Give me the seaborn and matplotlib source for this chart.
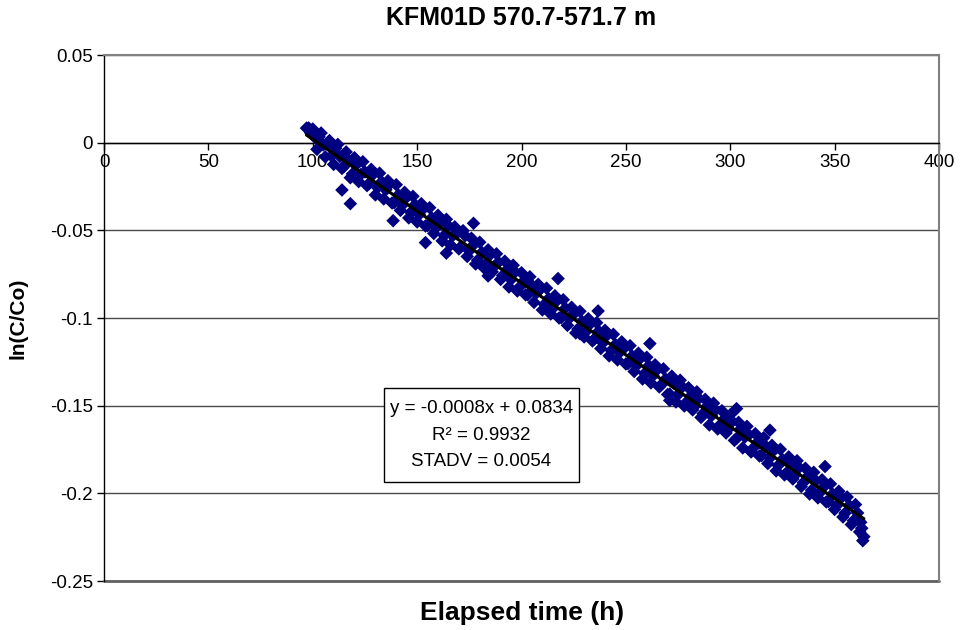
import matplotlib
matplotlib.use('Agg')
import matplotlib.pyplot as plt
from matplotlib.patches import Rectangle
import seaborn as sns
import pandas as pd

# ---- data ----
elapsed_h = [97, 99, 101, 103, 105, 107, 109, 111, 113, 115, 117, 119, 121, 123, 125,
             127, 129, 131, 133, 135, 137, 139, 141, 143, 145, 147, 149, 151, 153, 155,
             157, 159, 161, 163, 165, 167, 169, 171, 173, 175, 177, 179, 181, 183, 185,
             187, 189, 191, 193, 195, 197, 199, 201, 203, 205, 207, 209, 211, 213, 215,
             217, 219, 221, 223, 225, 227, 229, 231, 233, 235, 237, 239, 241, 243, 245,
             247, 249, 251, 253, 255, 257, 259, 261, 263, 265, 267, 269, 271, 273, 275,
             277, 279, 281, 283, 285, 287, 289, 291, 293, 295, 297, 299, 301, 303, 305,
             307, 309, 311, 313, 315, 317, 319, 321, 323, 325, 327, 329, 331, 333, 335,
             337, 339, 341, 343, 345, 347, 349, 351, 353, 355, 357, 359, 361, 363, 364, 362]
ln_c_co = [0.0083, 0.0056, 0.0030, 0.0033, -0.0013, -0.0009, -0.0076, -0.0032, -0.0079, -0.0135,
           -0.0101, -0.0178, -0.0124, -0.0181, -0.0167, -0.0233, -0.0180, -0.0256, -0.0223, -0.0269,
           -0.0235, -0.0342, -0.0298, -0.0355, -0.0311, -0.0397, -0.0354, -0.0410, -0.0377, -0.0473,
           -0.0429, -0.0486, -0.0452, -0.0529, -0.0475, -0.0531, -0.0518, -0.0594, -0.0531, -0.0617,
           -0.0583, -0.0670, -0.0626, -0.0693, -0.0639, -0.0705, -0.0682, -0.0758, -0.0725, -0.0781,
           -0.0737, -0.0824, -0.0790, -0.0867, -0.0813, -0.0859, -0.0836, -0.0922, -0.0889, -0.0945,
           -0.0901, -0.0998, -0.0944, -0.1001, -0.0977, -0.1063, -0.1020, -0.1076, -0.1033, -0.1119,
           -0.1075, -0.1142, -0.1098, -0.1185, -0.1151, -0.1197, -0.1174, -0.1260, -0.1217, -0.1273,
           -0.1229, -0.1316, -0.1272, -0.1329, -0.1295, -0.1381, -0.1348, -0.1434, -0.1371, -0.1437,
           -0.1393, -0.1480, -0.1446, -0.1503, -0.1459, -0.1545, -0.1502, -0.1558, -0.1525, -0.1611,
           -0.1577, -0.1634, -0.1590, -0.1687, -0.1633, -0.1679, -0.1666, -0.1742, -0.1709, -0.1785,
           -0.1731, -0.1798, -0.1754, -0.1841, -0.1807, -0.1883, -0.1830, -0.1896, -0.1853, -0.1939,
           -0.1905, -0.1982, -0.1928, -0.1995, -0.1961, -0.2047, -0.2004, -0.2070, -0.2027, -0.2113,
           -0.2069, -0.2156, -0.2112, -0.2199, -0.2247, -0.2220]

elapsed_h_b = [98, 100, 102, 104, 106, 108, 110, 112, 114, 116, 118, 120, 122, 124, 126,
               128, 130, 132, 134, 136, 138, 140, 142, 144, 146, 148, 150, 152, 154, 156,
               158, 160, 162, 164, 166, 168, 170, 172, 174, 176, 178, 180, 182, 184, 186,
               188, 190, 192, 194, 196, 198, 200, 202, 204, 206, 208, 210, 212, 214, 216,
               218, 220, 222, 224, 226, 228, 230, 232, 234, 236, 238, 240, 242, 244, 246,
               248, 250, 252, 254, 256, 258, 260, 262, 264, 266, 268, 270, 272, 274, 276,
               278, 280, 282, 284, 286, 288, 290, 292, 294, 296, 298, 300, 302, 304, 306,
               308, 310, 312, 314, 316, 318, 320, 322, 324, 326, 328, 330, 332, 334, 336,
               338, 340, 342, 344, 346, 348, 350, 352, 354, 356, 358, 360, 362.5, 363.5]
ln_c_co_b = [0.0084, 0.0078, -0.0038, 0.0055, -0.0081, 0.0012, -0.0124, -0.0010, -0.0147, -0.0053,
             -0.0200, -0.0086, -0.0222, -0.0109, -0.0245, -0.0152, -0.0298, -0.0174, -0.0321, -0.0217,
             -0.0344, -0.0240, -0.0386, -0.0283, -0.0429, -0.0306, -0.0452, -0.0348, -0.0475, -0.0371,
             -0.0518, -0.0414, -0.0560, -0.0437, -0.0583, -0.0480, -0.0606, -0.0502, -0.0649, -0.0545,
             -0.0692, -0.0568, -0.0714, -0.0611, -0.0737, -0.0634, -0.0780, -0.0676, -0.0823, -0.0699,
             -0.0846, -0.0742, -0.0868, -0.0765, -0.0911, -0.0808, -0.0954, -0.0830, -0.0977, -0.0873,
             -0.1000, -0.0896, -0.1042, -0.0939, -0.1085, -0.0962, -0.1108, -0.1004, -0.1131, -0.1027,
             -0.1174, -0.1070, -0.1216, -0.1093, -0.1239, -0.1136, -0.1262, -0.1158, -0.1305, -0.1201,
             -0.1348, -0.1224, -0.1370, -0.1267, -0.1393, -0.1290, -0.1436, -0.1332, -0.1479, -0.1355,
             -0.1502, -0.1398, -0.1524, -0.1421, -0.1567, -0.1464, -0.1610, -0.1486, -0.1633, -0.1529,
             -0.1656, -0.1552, -0.1698, -0.1595, -0.1741, -0.1618, -0.1764, -0.1660, -0.1787, -0.1683,
             -0.1830, -0.1726, -0.1872, -0.1749, -0.1895, -0.1792, -0.1918, -0.1814, -0.1961, -0.1857,
             -0.2004, -0.1880, -0.2026, -0.1923, -0.2049, -0.1946, -0.2092, -0.1988, -0.2135, -0.2021,
             -0.2178, -0.2064, -0.2165, -0.2270]

outlier_h = [114, 118, 138.5, 154, 164, 177, 184, 217.5, 228, 236.7, 261.5, 271, 303, 319, 345.4]
outlier_ln = [-0.0270, -0.0348, -0.0445, -0.0570, -0.0630, -0.0460, -0.0760, -0.0775, -0.1090,
              -0.0960, -0.1146, -0.1470, -0.1517, -0.1640, -0.1847]

x_ticks = [0, 50, 100, 150, 200, 250, 300, 350, 400]
y_ticks = [0.05, 0, -0.05, -0.1, -0.15, -0.2, -0.25]
y_tick_labels = ['0.05', '0', '-0.05', '-0.1', '-0.15', '-0.2', '-0.25']
title_text = 'KFM01D 570.7-571.7 m'
x_label = 'Elapsed time (h)'
y_label = 'ln(C/Co)'
fit_text = 'y = -0.0008x + 0.0834\nR\u00b2 = 0.9932\nSTADV = 0.0054'
fit_box_x = (134.1, 227.5)
fit_box_y = (-0.1938, -0.1397)

# ---- styling ----
sns.set_theme(style='white')
plt.rcParams['font.family'] = ['Liberation Sans', 'DejaVu Sans']
plt.rcParams['axes.unicode_minus'] = False
plt.rcParams['text.color'] = 'black'

df = pd.DataFrame({'t': elapsed_h + elapsed_h_b + outlier_h,
                   'ln': ln_c_co + ln_c_co_b + outlier_ln})

W, H = 962, 630
fig = plt.figure(figsize=(W / 100, H / 100), dpi=100)
ax = fig.add_axes([104 / W, 1 - 581 / H, 835 / W, 526 / H])

sns.scatterplot(data=df, x='t', y='ln', marker='D', s=48, color='#000080',
                edgecolor='none', linewidth=0, ax=ax, zorder=3)
sns.regplot(data=df, x='t', y='ln', scatter=False, ci=None, color='black',
            line_kws={'linewidth': 2.3, 'zorder': 4}, ax=ax)

ax.set_xlim(0, 400)
ax.set_ylim(-0.25, 0.05)
ax.set_xticks(x_ticks)
ax.set_xticklabels([str(v) for v in x_ticks])
ax.set_yticks(y_ticks)
ax.set_yticklabels(y_tick_labels)
ax.set_xlabel('')
ax.set_ylabel('')

ax.yaxis.grid(True, color='#4a4a4a', linewidth=1.0)
ax.xaxis.grid(False)
ax.set_axisbelow(True)

ax.spines['bottom'].set_position(('data', 0))
ax.spines['bottom'].set_color('black')
ax.spines['bottom'].set_linewidth(1.0)
ax.spines['left'].set_color('black')
ax.spines['left'].set_linewidth(1.0)
for s in ('top', 'right'):
    ax.spines[s].set_color('#808080')
    ax.spines[s].set_linewidth(1.5)
    ax.spines[s].set_visible(True)
ax.axhline(-0.25, color='#606060', linewidth=2.0, clip_on=False, zorder=1)

ax.tick_params(axis='both', which='major', direction='out', length=5, width=1,
               color='black', labelsize=13.5, labelcolor='black', pad=3,
               bottom=True, left=True)

ax.add_patch(Rectangle((fit_box_x[0], fit_box_y[0]), fit_box_x[1] - fit_box_x[0],
                       fit_box_y[1] - fit_box_y[0], facecolor='white',
                       edgecolor='black', linewidth=1, zorder=6))
ax.text(sum(fit_box_x) / 2, sum(fit_box_y) / 2, fit_text, ha='center', va='center',
        multialignment='center', fontsize=13.5, linespacing=1.72, zorder=7,
        color='black')

fig.text(521.5 / W, 1 - 18 / H, title_text, ha='center', va='center',
         fontsize=18, fontweight='bold', color='black')
fig.text(522 / W, 1 - 613 / H, x_label, ha='center', va='center',
         fontsize=19, fontweight='bold', color='black')
fig.text(18 / W, 1 - 318 / H, y_label, ha='center', va='center', rotation=90,
         fontsize=15, fontweight='bold', color='black')

fig.savefig('out.png', dpi=100)
